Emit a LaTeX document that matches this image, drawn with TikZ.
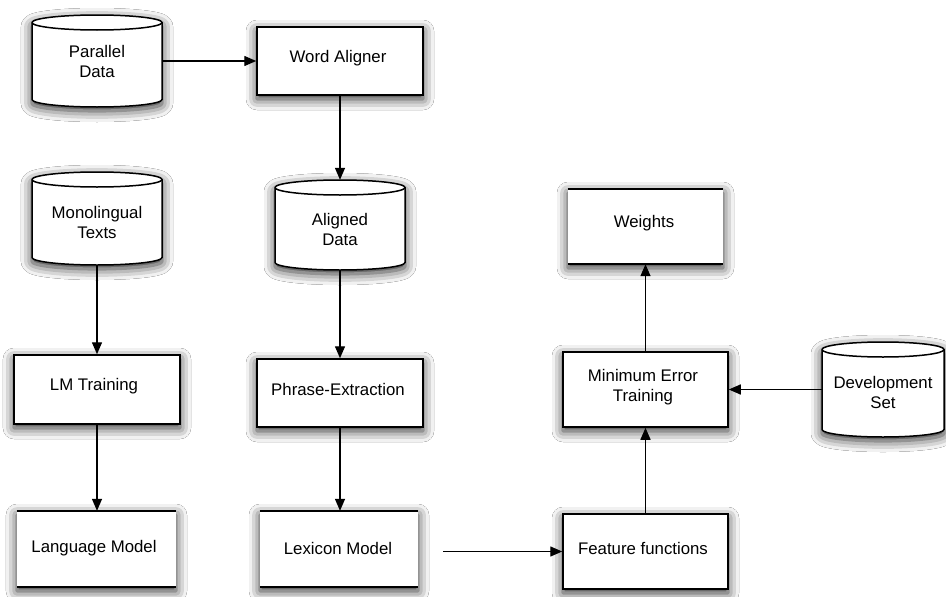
\documentclass[tikz,border=0pt]{standalone}
\usepackage{fontspec}
\setmainfont{Liberation Sans}
\usetikzlibrary{arrows.meta,shadows.blur}

\tikzset{
  shd/.style={blur shadow={shadow xshift=0pt, shadow yshift=-4pt, shadow blur radius=11pt, shadow blur extra rounding=0pt, shadow opacity=85}},
  lbl/.style={font=\fontsize{16.8}{20}\selectfont, align=center, inner sep=0pt},
  rbox/.style={draw=black, line width=1.5pt, fill=white, shd, inner sep=0pt},
  obox/.style={fill=white, shd, inner sep=0pt},
  cylfill/.style={draw=black, line width=1.5pt, fill=white, shd},
  cylline/.style={draw=black, line width=1.5pt},
  edgeline/.style={draw=black, line width=1.5pt},
  flow/.style={draw=black, line width=1.4pt, -{Triangle[length=12pt,width=10pt]}},
}

% \mkcyl{name}{L}{T}{R}{B}{text}{text x}{text y}
\newcommand{\mkcyl}[8]{%
  \path[cylfill] (#2,{-(#3+7.5)}) -- (#2,{-(#5-7.5)})
     arc[start angle=180,end angle=360,x radius={(#4-#2)/2},y radius=7.5]
     -- (#4,{-(#3+7.5)})
     arc[start angle=0,end angle=180,x radius={(#4-#2)/2},y radius=7.5] -- cycle;
  \path[cylline] (#2,{-(#3+7.5)})
     arc[start angle=180,end angle=360,x radius={(#4-#2)/2},y radius=7.5];
  \node[inner sep=0pt, minimum width={(#4-#2)*1pt}, minimum height={(#5-#3)*1pt}]
     (#1) at ({(#2+#4)/2},{-(#3+#5)/2}) {};
  \node[lbl] (#1-t) at (#7,-#8) {#6};
}

% \mkbox{name}{L}{T}{R}{B}{text}{text x}{text y}{style}
\newcommand{\mkbox}[9]{%
  \node[#9, minimum width={(#4-#2)*1pt}, minimum height={(#5-#3)*1pt}]
     (#1) at ({(#2+#4)/2},{-(#3+#5)/2}) {};
  \node[lbl] (#1-t) at (#7,-#8) {#6};
}

\begin{document}
\begin{tikzpicture}[x=1pt,y=1pt]
\useasboundingbox (0,0) rectangle (946,-597);
\fill[white] (0,0) rectangle (946,-597);

% cylinders
\mkcyl{PD}{32}{15}{162}{107}{Parallel\\Data}{97}{61}
\mkcyl{MT}{32}{172}{162}{265}{Monolingual\\Texts}{97}{222}
\mkcyl{AD}{275}{180}{405}{270}{Aligned\\Data}{340}{229}
\mkcyl{DS}{822}{342}{944}{437}{Development\\Set}{883}{392}

% boxes
\mkbox{WA}{257}{27}{423}{95}{Word Aligner}{338}{58}{rbox}
\mkbox{W}{568}{189}{723}{264}{Weights}{644}{223}{obox}
\mkbox{LMT}{14}{355}{180}{424}{LM Training}{94}{386}{rbox}
\mkbox{PE}{257}{359}{423}{427}{Phrase-Extraction}{338}{389}{rbox}
\mkbox{MET}{563}{352}{728}{427}{Minimum Error\\Training}{643}{387}{rbox}
\mkbox{LM}{17}{511}{176}{587}{Language Model}{94}{548}{obox}
\mkbox{LX}{260}{511}{418}{587}{Lexicon Model}{338}{548}{obox}
\mkbox{FF}{563}{514}{728}{589}{Feature functions}{643}{548}{rbox}

% top and bottom lines of the open boxes
\foreach \n in {W,LM,LX}{
  \draw[edgeline] (\n.north west) -- (\n.north east);
  \draw[edgeline] (\n.south west) -- (\n.south east);
}

% connectors
\coordinate (lxout) at ([xshift=25pt]LX.east);
\draw[flow] (PD.east) -- (WA.west);
\draw[flow] (WA.south) -- (AD.north);
\draw[flow] (MT.south) -- (LMT.south |- MT.south) -- (LMT.north);
\draw[flow] (AD.south) -- (PE.north);
\draw[flow] (LMT.south) -- (LMT.south |- LM.north);
\draw[flow] (PE.south) -- (PE.south |- LX.north);
\draw[flow] (lxout |- FF.west) -- (FF.west);
\draw[flow] (FF.north) -- (FF.north |- MET.south);
\draw[flow] (MET.north) -- (MET.north |- W.south);
\draw[flow] (DS.west) -- (MET.east);
\end{tikzpicture}
\end{document}
